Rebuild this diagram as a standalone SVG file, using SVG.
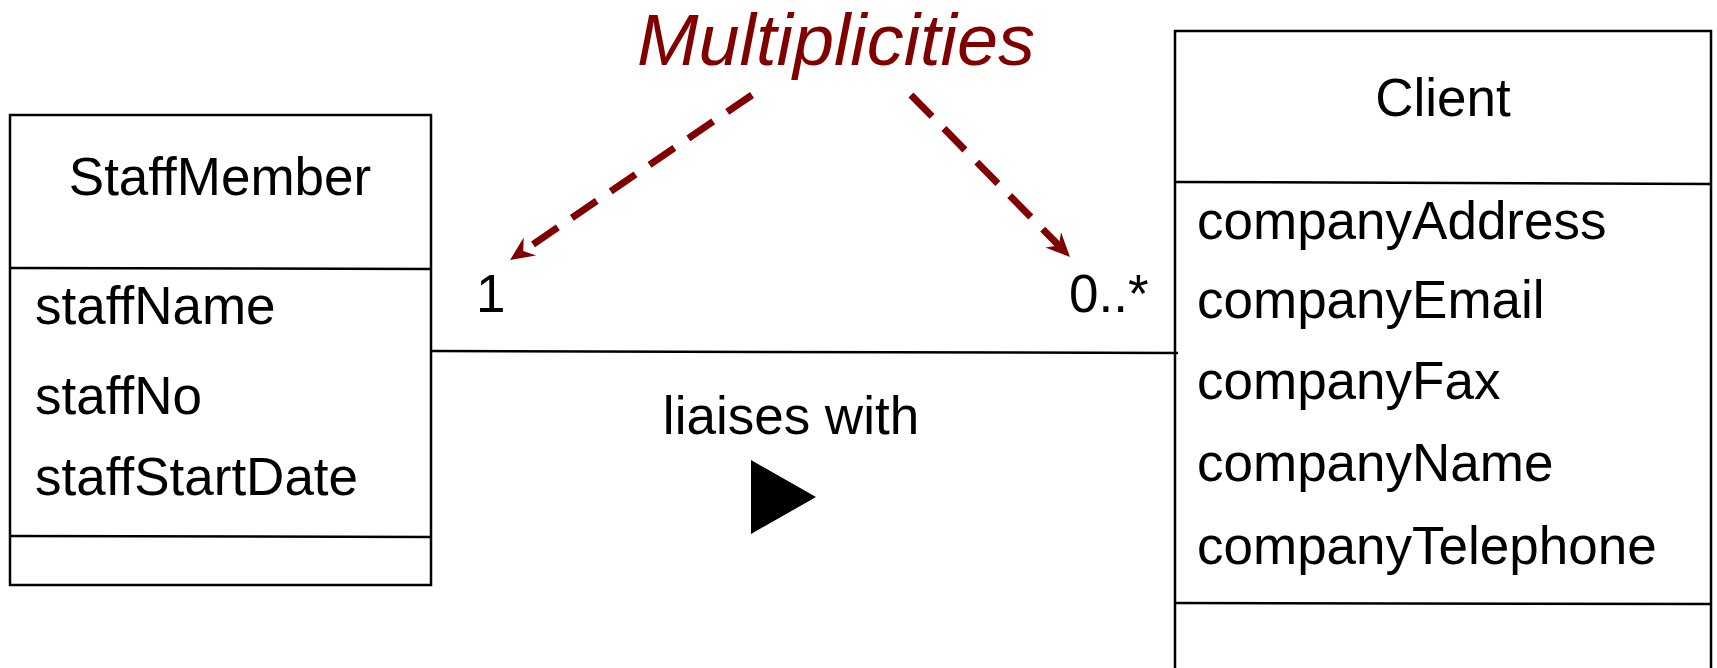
<svg xmlns="http://www.w3.org/2000/svg" width="1717" height="668" viewBox="0 0 1717 668">
<style>
  .box{fill:#fff;stroke:#000;stroke-width:2.5}
  .div{stroke:#000;stroke-width:2.5}
  .t{font-family:"Liberation Sans",Arial,sans-serif;font-size:53px;fill:#000}
  .note{font-family:"Liberation Sans Narrow","Liberation Sans",Arial,sans-serif;font-style:italic;font-size:73px;fill:#800000}
  .dash{stroke:#800000;stroke-width:7;fill:none;stroke-dasharray:30 17}
</style>
<defs>
  <marker id="head" markerUnits="userSpaceOnUse" markerWidth="60" markerHeight="60" refX="0" refY="0" orient="auto" overflow="visible">
    <path d="M14,0 L-10,-11 L-2,0 L-10,11 Z" fill="#800000"/>
  </marker>
</defs>
<rect width="1717" height="668" fill="#fff"/>
<g id="StaffMember">
  <rect class="box" x="10" y="115" width="421" height="470"/>
  <line class="div" x1="10" y1="268" x2="431" y2="269"/>
  <line class="div" x1="10" y1="536" x2="431" y2="537"/>
  <text class="t" x="220" y="195" text-anchor="middle">StaffMember</text>
  <text class="t" x="35" y="324">staffName</text>
  <text class="t" x="35" y="414">staffNo</text>
  <text class="t" x="35" y="495">staffStartDate</text>
</g>
<g id="Client">
  <rect class="box" x="1175" y="31" width="536" height="700"/>
  <line class="div" x1="1175" y1="182" x2="1711" y2="184"/>
  <line class="div" x1="1175" y1="603" x2="1711" y2="604"/>
  <text class="t" x="1443" y="116" text-anchor="middle">Client</text>
  <text class="t" x="1197" y="239">companyAddress</text>
  <text class="t" x="1197" y="318">companyEmail</text>
  <text class="t" x="1197" y="399">companyFax</text>
  <text class="t" x="1197" y="481">companyName</text>
  <text class="t" x="1197" y="564">companyTelephone</text>
</g>
<g id="connectors">
  <line x1="431" y1="351" x2="1178" y2="353" stroke="#000" stroke-width="2.5"/>
  <text class="t" x="476" y="312">1</text>
  <text class="t" x="1069" y="312">0..*</text>
  <text class="t" x="791" y="434" text-anchor="middle">liaises with</text>
  <polygon points="751,460 751,534 816,497" fill="#000"/>
</g>
<g id="Multiplicities">
  <text class="note" x="637" y="65" textLength="398" lengthAdjust="spacingAndGlyphs">Multiplicities</text>
  <line class="dash" x1="752" y1="95" x2="521.6" y2="252.1" marker-end="url(#head)"/>
  <line class="dash" x1="911" y1="95" x2="1060.2" y2="247" marker-end="url(#head)"/>
</g>
</svg>
